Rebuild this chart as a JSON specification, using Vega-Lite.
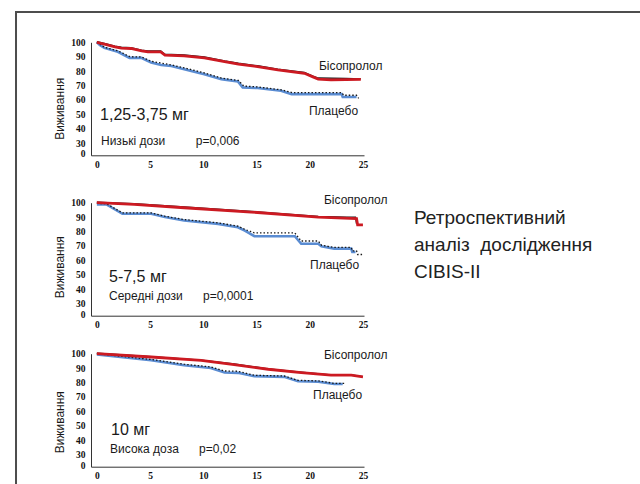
{
  "$schema": "https://vega.github.io/schema/vega-lite/v6.json",
  "padding": {"left": 15, "top": 11, "right": 0, "bottom": 0},
  "background": "white",
  "config": {
    "view": {"stroke": null},
    "axis": {
      "grid": false, "ticks": false,
      "labelFont": "Liberation Serif", "labelFontWeight": "bold", "labelFontSize": 9.5, "labelColor": "#111",
      "domainColor": "#333", "domainWidth": 1,
      "titleFont": "Liberation Sans", "titleFontWeight": "normal", "titleFontSize": 12, "titleColor": "#1a1a1a"
    }
  },
  "datasets": {
    "c1": [
      {"s":"bisk","t":0,"v":100.4},{"s":"bisk","t":0.8,"v":99},{"s":"bisk","t":1.7,"v":97.4},{"s":"bisk","t":2.3,"v":96.6},{"s":"bisk","t":3.2,"v":96.3},{"s":"bisk","t":4.2,"v":94.6},{"s":"bisk","t":4.8,"v":94},{"s":"bisk","t":6.0,"v":94},{"s":"bisk","t":6.4,"v":91.7},{"s":"bisk","t":8.2,"v":91.2},{"s":"bisk","t":10.1,"v":89.8},{"s":"bisk","t":12.0,"v":87.1},{"s":"bisk","t":13.3,"v":85.5},{"s":"bisk","t":15.1,"v":83.7},{"s":"bisk","t":17.0,"v":81.4},{"s":"bisk","t":19.5,"v":79.1},{"s":"bisk","t":20.3,"v":76.6},{"s":"bisk","t":20.8,"v":75.2},{"s":"bisk","t":23.4,"v":75},{"s":"bisk","t":24.8,"v":74.6},
      {"s":"bis","t":0,"v":100},{"s":"bis","t":0.8,"v":98.5},{"s":"bis","t":1.7,"v":96.8},{"s":"bis","t":2.3,"v":96.0},{"s":"bis","t":3.2,"v":95.7},{"s":"bis","t":4.2,"v":94.0},{"s":"bis","t":4.8,"v":93.4},{"s":"bis","t":6.0,"v":93.4},{"s":"bis","t":6.4,"v":91.1},{"s":"bis","t":8.2,"v":90.6},{"s":"bis","t":10.1,"v":89.2},{"s":"bis","t":12.0,"v":86.5},{"s":"bis","t":13.3,"v":84.9},{"s":"bis","t":15.1,"v":83.1},{"s":"bis","t":17.0,"v":80.8},{"s":"bis","t":19.5,"v":78.5},{"s":"bis","t":20.3,"v":76.0},{"s":"bis","t":20.8,"v":74.4},{"s":"bis","t":22.0,"v":73.9},{"s":"bis","t":24.8,"v":74.2},
      {"s":"pl","t":0,"v":100},{"s":"pl","t":0.3,"v":98},{"s":"pl","t":0.7,"v":96.1},{"s":"pl","t":1.97,"v":93.4},{"s":"pl","t":3.07,"v":89.2},{"s":"pl","t":4.17,"v":89.2},{"s":"pl","t":5.1,"v":86.0},{"s":"pl","t":6.05,"v":84.2},{"s":"pl","t":7.0,"v":83.5},{"s":"pl","t":8.87,"v":80.1},{"s":"pl","t":10.1,"v":77.8},{"s":"pl","t":11.7,"v":74.4},{"s":"pl","t":13.25,"v":72.8},{"s":"pl","t":13.7,"v":68.7},{"s":"pl","t":15.1,"v":68.2},{"s":"pl","t":17.3,"v":66.4},{"s":"pl","t":18.3,"v":64.0},{"s":"pl","t":23.0,"v":64.0},{"s":"pl","t":23.1,"v":62.0},{"s":"pl","t":24.4,"v":62.0},
      {"s":"pld","t":0,"v":100},{"s":"pld","t":0.7,"v":96.6},{"s":"pld","t":2,"v":94},{"s":"pld","t":3.1,"v":90},{"s":"pld","t":4.2,"v":89.8},{"s":"pld","t":5.1,"v":86.8},{"s":"pld","t":7,"v":84.3},{"s":"pld","t":8.9,"v":81},{"s":"pld","t":10.1,"v":78.7},{"s":"pld","t":11.7,"v":75.2},{"s":"pld","t":13.3,"v":73.5},{"s":"pld","t":13.8,"v":69.6},{"s":"pld","t":15.1,"v":69},{"s":"pld","t":17.3,"v":67},{"s":"pld","t":18.4,"v":65},{"s":"pld","t":23.0,"v":65},{"s":"pld","t":23.2,"v":63.2},{"s":"pld","t":24.4,"v":63.2},{"s":"pld","t":24.6,"v":61}
    ],
    "c2": [
      {"s":"bisk","t":0,"v":100.3},{"s":"bisk","t":1,"v":100},{"s":"bisk","t":3.5,"v":99.3},{"s":"bisk","t":8.2,"v":97},{"s":"bisk","t":14.5,"v":94},{"s":"bisk","t":20.8,"v":90.5},{"s":"bisk","t":23.5,"v":89.9},{"s":"bisk","t":24.3,"v":89.9},{"s":"bisk","t":24.4,"v":85.2},
      {"s":"bis","t":0,"v":100},{"s":"bis","t":1,"v":99.7},{"s":"bis","t":3.5,"v":98.8},{"s":"bis","t":8.2,"v":96.5},{"s":"bis","t":14.5,"v":93.5},{"s":"bis","t":20.8,"v":90.0},{"s":"bis","t":24.4,"v":89.0},{"s":"bis","t":24.5,"v":84.6},{"s":"bis","t":25,"v":84.6},
      {"s":"pl","t":0,"v":98.8},{"s":"pl","t":0.9,"v":98.8},{"s":"pl","t":2.4,"v":92.3},{"s":"pl","t":5.1,"v":92.3},{"s":"pl","t":6.4,"v":90},{"s":"pl","t":8.2,"v":87.6},{"s":"pl","t":11.4,"v":85.3},{"s":"pl","t":13.25,"v":82.9},{"s":"pl","t":13.9,"v":80.6},{"s":"pl","t":14.8,"v":76.7},{"s":"pl","t":18.6,"v":76.7},{"s":"pl","t":19.2,"v":71.5},{"s":"pl","t":20.8,"v":71.5},{"s":"pl","t":21.1,"v":69.7},{"s":"pl","t":22.3,"v":68.1},{"s":"pl","t":23.9,"v":68.1},{"s":"pl","t":24.0,"v":65.8},{"s":"pl","t":24.3,"v":65.8},
      {"s":"pld","t":0,"v":99.5},{"s":"pld","t":0.9,"v":99.3},{"s":"pld","t":2.4,"v":93},{"s":"pld","t":5.1,"v":92.9},{"s":"pld","t":6.4,"v":90.6},{"s":"pld","t":8.2,"v":88.3},{"s":"pld","t":11.4,"v":86},{"s":"pld","t":13.25,"v":83.7},{"s":"pld","t":13.9,"v":81.5},{"s":"pld","t":14.8,"v":79},{"s":"pld","t":18.6,"v":79},{"s":"pld","t":19.2,"v":73.4},{"s":"pld","t":20.8,"v":73.4},{"s":"pld","t":21.1,"v":70.5},{"s":"pld","t":22.3,"v":68.9},{"s":"pld","t":23.9,"v":68.9},{"s":"pld","t":24,"v":66.5},{"s":"pld","t":24.4,"v":66.5},{"s":"pld","t":24.5,"v":64},{"s":"pld","t":25,"v":64}
    ],
    "c3": [
      {"s":"bisk","t":0,"v":100.3},{"s":"bisk","t":5.1,"v":98},{"s":"bisk","t":9.8,"v":95.5},{"s":"bisk","t":12.9,"v":92.9},{"s":"bisk","t":16.1,"v":89.5},{"s":"bisk","t":19.2,"v":87.2},{"s":"bisk","t":22.0,"v":85.3},{"s":"bisk","t":23.9,"v":85.3},{"s":"bisk","t":25,"v":84.1},
      {"s":"bis","t":0,"v":100},{"s":"bis","t":5.1,"v":97.7},{"s":"bis","t":9.8,"v":95.4},{"s":"bis","t":12.9,"v":92.4},{"s":"bis","t":16.1,"v":89.2},{"s":"bis","t":19.2,"v":86.9},{"s":"bis","t":22.0,"v":85.1},{"s":"bis","t":23.9,"v":85.1},{"s":"bis","t":25,"v":83.9},
      {"s":"pl","t":0,"v":99.5},{"s":"pl","t":5.1,"v":95.4},{"s":"pl","t":8.2,"v":92.0},{"s":"pl","t":10.7,"v":90.1},{"s":"pl","t":12.0,"v":86.9},{"s":"pl","t":13.25,"v":86.7},{"s":"pl","t":14.8,"v":84.4},{"s":"pl","t":17.6,"v":83.9},{"s":"pl","t":18.9,"v":80.9},{"s":"pl","t":20.8,"v":80.5},{"s":"pl","t":22.3,"v":78.9},{"s":"pl","t":23.1,"v":78.9},
      {"s":"pld","t":0,"v":100},{"s":"pld","t":5.1,"v":96},{"s":"pld","t":8.2,"v":92.7},{"s":"pld","t":10.7,"v":90.8},{"s":"pld","t":12.0,"v":88},{"s":"pld","t":13.25,"v":87.8},{"s":"pld","t":14.8,"v":85},{"s":"pld","t":17.6,"v":84.5},{"s":"pld","t":18.9,"v":81.5},{"s":"pld","t":20.8,"v":81.1},{"s":"pld","t":22.3,"v":79.4},{"s":"pld","t":23.3,"v":79.4}
    ],
    "l1": [
      {"k":"small","t":20.87,"v":83.5,"label":"Бісопролол"},
      {"k":"small","t":19.93,"v":52.3,"label":"Плацебо"},
      {"k":"big","t":0.3,"v":49.5,"label":"1,25-3,75 мг"},
      {"k":"small","t":0.39,"v":31.6,"label":"Низькі дози"},
      {"k":"small","t":9.3,"v":31.6,"label":"p=0,006"}
    ],
    "l2": [
      {"k":"small","t":21.34,"v":101.9,"label":"Бісопролол"},
      {"k":"small","t":20.03,"v":56.7,"label":"Плацебо"},
      {"k":"big","t":1.14,"v":48.4,"label":"5-7,5 мг"},
      {"k":"small","t":1.14,"v":35.2,"label":"Середні дози"},
      {"k":"small","t":9.97,"v":35.2,"label":"p=0,0001"}
    ],
    "l3": [
      {"k":"small","t":21.34,"v":99.1,"label":"Бісопролол"},
      {"k":"small","t":20.31,"v":71.3,"label":"Плацебо"},
      {"k":"big","t":1.33,"v":47.0,"label":"10 мг"},
      {"k":"small","t":1.24,"v":33.8,"label":"Висока доза"},
      {"k":"small","t":9.6,"v":33.8,"label":"p=0,02"}
    ]
  },
  "vconcat": [
    {
      "width": 624, "height": 0.01,
      "data": {"values": []},
      "mark": {"type": "point"},
      "view": {"stroke": "#4d4d4d", "strokeWidth": 2}
    },
    {
      "hconcat": [
        {
          "width": 0.01, "height": 480,
          "data": {"values": []},
          "mark": {"type": "point"},
          "view": {"stroke": "#4d4d4d", "strokeWidth": 2}
        },
        {
          "vconcat": [
            {
              "width": 0.01, "height": 0.01,
              "data": {"values": []},
              "mark": {"type": "point"}
            },
            {
              "vconcat": [
                {
                  "width": 273, "height": 113,
                  "encoding": {
                    "x": {"field": "t", "type": "quantitative", "scale": {"domain": [-0.55, 25.1], "nice": false, "zero": false}, "axis": {"values": [0,5,10,15,20,25], "title": null, "labelPadding": 4}},
                    "y": {"field": "v", "type": "quantitative", "scale": {"domain": [21.5, 100], "nice": false, "zero": false}, "axis": {"values": [22.5,30,40,50,60,70,80,90,100], "labelExpr": "datum.value < 25 ? '0' : datum.label", "title": "Виживання", "labelPadding": 6, "titlePadding": 4, "titleY": 66}}
                  },
                  "layer": [
                    {"data": {"name": "c1"}, "transform": [{"filter": "datum.s === 'pl'"}], "mark": {"type": "line", "color": "#5a8cd2", "strokeWidth": 2.6}, "encoding": {}},
                    {"data": {"name": "c1"}, "transform": [{"filter": "datum.s === 'pld'"}], "mark": {"type": "line", "color": "#1a1a1a", "strokeWidth": 1.3, "strokeDash": [1.5, 2]}, "encoding": {}},
                    {"data": {"name": "c1"}, "transform": [{"filter": "datum.s === 'bisk'"}], "mark": {"type": "line", "color": "#1a1a1a", "strokeWidth": 1.3}, "encoding": {}},
                    {"data": {"name": "c1"}, "transform": [{"filter": "datum.s === 'bis'"}], "mark": {"type": "line", "color": "#cc1a22", "strokeWidth": 2.8}, "encoding": {}},
                    {"data": {"name": "l1"}, "transform": [{"filter": "datum.k === 'small'"}], "mark": {"type": "text", "align": "left", "baseline": "middle", "font": "Liberation Sans", "fontSize": 12, "color": "#1a1a1a"}, "encoding": {"text": {"field": "label"}}},
                    {"data": {"name": "l1"}, "transform": [{"filter": "datum.k === 'big'"}], "mark": {"type": "text", "align": "left", "baseline": "middle", "font": "Liberation Sans", "fontSize": 16, "color": "#1a1a1a"}, "encoding": {"text": {"field": "label"}}}
                  ]
                },
                {
                  "vconcat": [
                    {
                      "width": 273, "height": 113,
                      "encoding": {
                        "x": {"field": "t", "type": "quantitative", "scale": {"domain": [-0.55, 25.1], "nice": false, "zero": false}, "axis": {"values": [0,5,10,15,20,25], "title": null, "labelPadding": 4}},
                        "y": {"field": "v", "type": "quantitative", "scale": {"domain": [21.5, 100], "nice": false, "zero": false}, "axis": {"values": [22.5,30,40,50,60,70,80,90,100], "labelExpr": "datum.value < 25 ? '0' : datum.label", "title": "Виживання", "labelPadding": 6, "titlePadding": 4, "titleY": 64}}
                      },
                      "layer": [
                        {"data": {"name": "c2"}, "transform": [{"filter": "datum.s === 'pl'"}], "mark": {"type": "line", "color": "#5a8cd2", "strokeWidth": 2.6}, "encoding": {}},
                        {"data": {"name": "c2"}, "transform": [{"filter": "datum.s === 'pld'"}], "mark": {"type": "line", "color": "#1a1a1a", "strokeWidth": 1.3, "strokeDash": [1.5, 2]}, "encoding": {}},
                        {"data": {"name": "c2"}, "transform": [{"filter": "datum.s === 'bisk'"}], "mark": {"type": "line", "color": "#1a1a1a", "strokeWidth": 1.3}, "encoding": {}},
                        {"data": {"name": "c2"}, "transform": [{"filter": "datum.s === 'bis'"}], "mark": {"type": "line", "color": "#cc1a22", "strokeWidth": 2.8}, "encoding": {}},
                        {"data": {"name": "l2"}, "transform": [{"filter": "datum.k === 'small'"}], "mark": {"type": "text", "align": "left", "baseline": "middle", "font": "Liberation Sans", "fontSize": 12, "color": "#1a1a1a"}, "encoding": {"text": {"field": "label"}}},
                        {"data": {"name": "l2"}, "transform": [{"filter": "datum.k === 'big'"}], "mark": {"type": "text", "align": "left", "baseline": "middle", "font": "Liberation Sans", "fontSize": 16, "color": "#1a1a1a"}, "encoding": {"text": {"field": "label"}}},
                        {"data": {"values": [{"t": 29.8, "v": 85.4, "lines": ["Ретроспективний", "аналіз\u00a0 дослідження", "CIBIS-II"]}]}, "mark": {"type": "text", "align": "left", "baseline": "alphabetic", "font": "Liberation Sans", "fontSize": 19, "lineHeight": 27, "color": "#222"}, "encoding": {"text": {"field": "lines"}}}
                      ]
                    },
                    {
                      "width": 273, "height": 113,
                      "encoding": {
                        "x": {"field": "t", "type": "quantitative", "scale": {"domain": [-0.55, 25.1], "nice": false, "zero": false}, "axis": {"values": [0,5,10,15,20,25], "title": null, "labelPadding": 4}},
                        "y": {"field": "v", "type": "quantitative", "scale": {"domain": [21.5, 100], "nice": false, "zero": false}, "axis": {"values": [22.5,30,40,50,60,70,80,90,100], "labelExpr": "datum.value < 25 ? '0' : datum.label", "title": "Виживання", "labelPadding": 6, "titlePadding": 4, "titleY": 68}}
                      },
                      "layer": [
                        {"data": {"name": "c3"}, "transform": [{"filter": "datum.s === 'pl'"}], "mark": {"type": "line", "color": "#5a8cd2", "strokeWidth": 2.6}, "encoding": {}},
                        {"data": {"name": "c3"}, "transform": [{"filter": "datum.s === 'pld'"}], "mark": {"type": "line", "color": "#1a1a1a", "strokeWidth": 1.3, "strokeDash": [1.5, 2]}, "encoding": {}},
                        {"data": {"name": "c3"}, "transform": [{"filter": "datum.s === 'bisk'"}], "mark": {"type": "line", "color": "#1a1a1a", "strokeWidth": 1.3}, "encoding": {}},
                        {"data": {"name": "c3"}, "transform": [{"filter": "datum.s === 'bis'"}], "mark": {"type": "line", "color": "#cc1a22", "strokeWidth": 2.8}, "encoding": {}},
                        {"data": {"name": "l3"}, "transform": [{"filter": "datum.k === 'small'"}], "mark": {"type": "text", "align": "left", "baseline": "middle", "font": "Liberation Sans", "fontSize": 12, "color": "#1a1a1a"}, "encoding": {"text": {"field": "label"}}},
                        {"data": {"name": "l3"}, "transform": [{"filter": "datum.k === 'big'"}], "mark": {"type": "text", "align": "left", "baseline": "middle", "font": "Liberation Sans", "fontSize": 16, "color": "#1a1a1a"}, "encoding": {"text": {"field": "label"}}}
                      ]
                    }
                  ],
                  "spacing": 38, "bounds": "flush"
                }
              ],
              "spacing": 47.4, "bounds": "flush"
            }
          ],
          "spacing": 28.3, "bounds": "flush"
        }
      ],
      "spacing": 74, "bounds": "flush"
    }
  ],
  "spacing": 0, "bounds": "flush"
}
